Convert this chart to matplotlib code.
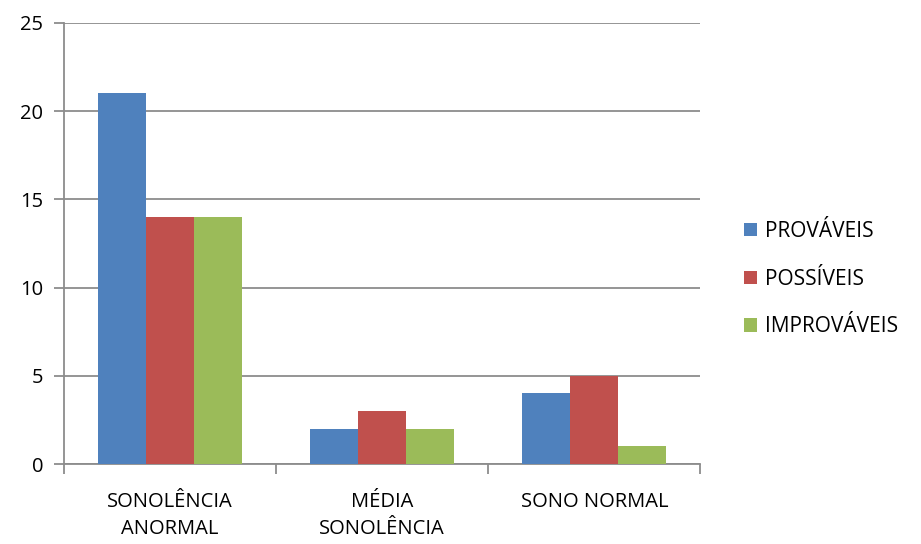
import numpy as np
import matplotlib.pyplot as plt

categories = ['SONOLÊNCIA\nANORMAL', 'MÉDIA\nSONOLÊNCIA', 'SONO NORMAL']
series = ['PROVÁVEIS', 'POSSÍVEIS', 'IMPROVÁVEIS']
provaveis = [21, 2, 4]
possiveis = [14, 3, 5]
improvaveis = [14, 2, 1]
colors = ['#4F81BD', '#C0504D', '#9BBB59']

plt.rcParams['font.family'] = ['Open Sans', 'DejaVu Sans']

fig = plt.figure(figsize=(9.21, 5.44), dpi=100)
ax = fig.add_axes([0.0695, 0.147, 0.691, 0.811])

x = np.arange(len(categories))
w = 0.226
for i, (vals, name) in enumerate(zip([provaveis, possiveis, improvaveis], series)):
    ax.bar(x + (i - 1) * w, vals, w, color=colors[i], label=name, zorder=3)

ax.set_xlim(-0.5, 2.5)
ax.set_ylim(0, 25)
ax.set_yticks(range(0, 26, 5))
ax.yaxis.grid(True, color='#8c8c8c', linewidth=1.3, zorder=0)

ax.set_xticks(x)
ax.set_xticklabels(categories, fontsize=14.5, va='top', linespacing=1.45)
ax.set_xticks(np.arange(-0.5, 3, 1), minor=True)
ax.tick_params(axis='x', which='major', length=0, pad=20)
ax.tick_params(axis='x', which='minor', length=7, color='#8c8c8c', width=1.3)
ax.tick_params(axis='y', length=7, color='#8c8c8c', width=1.3, labelsize=14.5, pad=8)

for s in ['top', 'right']:
    ax.spines[s].set_visible(False)
for s in ['left', 'bottom']:
    ax.spines[s].set_color('#8c8c8c')
    ax.spines[s].set_linewidth(1.3)

fig.legend(loc='center left', bbox_to_anchor=(0.797, 0.487), frameon=False,
           fontsize=15, handlelength=0.6, handleheight=0.6, handletextpad=0.4,
           labelspacing=1.28, borderpad=0)

fig.savefig('out.png', dpi=100)
